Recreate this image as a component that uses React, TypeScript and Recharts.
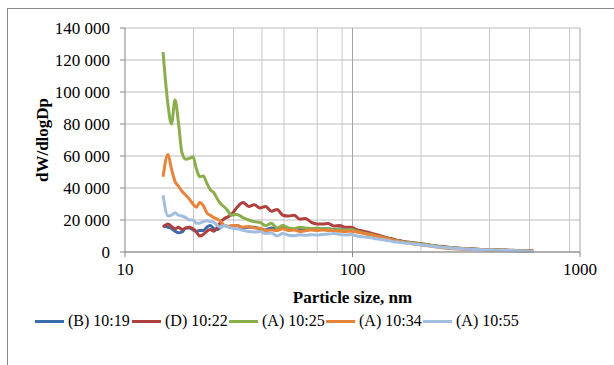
import { LineChart, Line, XAxis, YAxis, CartesianGrid, Legend, Label } from 'recharts';

// particle diameter, nm
const sizes = [
  14.7, 15.45, 16.0, 16.6, 17.2, 17.8, 18.5, 19.2, 19.9, 20.6, 21.3, 22.1, 22.9, 23.7, 24.6, 25.5, 26.4, 27.4, 28.4, 29.4,
  31.1, 33.0, 35.0, 37.0, 39.2, 41.5, 44.0, 46.6, 49.4, 52.3, 55.4, 58.7, 62.2, 65.9, 69.8, 73.9, 78.3, 82.9, 87.8, 93.0, 98.5,
  104.4, 110.6, 117.2, 124.1, 131.5, 139.3, 147.5, 156.3, 165.5, 175.4, 185.8, 196.8, 208.4, 220.8, 233.9, 247.8, 262.5,
  278.0, 294.5, 311.9, 330.4, 350.0, 370.8, 392.8, 416.1, 440.7, 466.9, 494.6, 523.9, 555.0, 587.9, 622.8,
];

const b1019 = [
  16500, 15500, 14800, 13000, 12000, 12500, 15000, 15000, 13800, 13000, 13500, 13500, 15500, 16500, 14500, 14000, 15500, 16500, 16000, 15500,
  16500, 15000, 15500, 15500, 14500, 13800, 15000, 14500, 14800, 14500, 14000, 14000, 13500, 14500, 14000, 14500, 14500, 14000, 14500, 13500, 13800,
  13200, 12300, 11500, 10700, 9800, 9000, 8000, 7200, 6500, 6000, 5500, 5000, 4500, 4000, 3500, 3100, 2800, 2500, 2200, 2000,
  1800, 1600, 1500, 1400, 1300, 1200, 1100, 1000, 900, 800, 600, 500,
];

const d1022 = [
  15500, 17500, 16000, 14500, 15500, 14000, 15000, 15500, 14500, 12500, 10000, 11000, 13000, 14000, 13000, 15500, 19000, 21000, 22000, 23500,
  28000, 31000, 28500, 29500, 27500, 28500, 25500, 26500, 23000, 22500, 23000, 20500, 21000, 18500, 17500, 17500, 17800, 16200, 16500, 15500, 15500,
  14000, 13200, 12300, 11300, 10300, 9300, 8400, 7400, 6800, 6200, 5800, 5300, 4800, 4300, 3800, 3400, 3000, 2700, 2400, 2200,
  2000, 1800, 1600, 1500, 1400, 1300, 1200, 1100, 1000, 900, 800, 700,
];

const a1025 = [
  125000, 92000, 80000, 95000, 80000, 62000, 58000, 58500, 59500, 52000, 47000, 47500, 43000, 39000, 37000, 33000, 30000, 28000, 25500, 23000,
  23500, 21500, 20000, 19000, 18500, 16500, 18000, 15000, 16500, 15000, 14500, 15500, 15000, 14500, 15000, 14300, 14500, 13800, 14200, 13500, 14000,
  13000, 12000, 11300, 10500, 9700, 8800, 7900, 7000, 6400, 6000, 5600, 5200, 4700, 4200, 3600, 3200, 2900, 2600, 2300, 2100,
  1900, 1750, 1600, 1450, 1350, 1250, 1100, 1000, 900, 800, 600, 400,
];

const a1034 = [
  47000, 61000, 52000, 44000, 41000, 38000, 35500, 33000, 30000, 28000, 31000, 29000, 24500, 23000, 21500, 20500, 19000, 16500, 16000, 16500,
  16500, 15500, 16000, 15000, 14800, 13500, 13800, 13500, 14500, 13500, 13800, 12800, 13300, 13800, 13500, 13800, 13500, 13300, 13000, 12800, 13000,
  12500, 11800, 11000, 10300, 9400, 8600, 7700, 6800, 6200, 5600, 5000, 4600, 4100, 3600, 3100, 2700, 2300, 2000, 1800, 1700,
  1600, 1500, 1400, 1300, 1200, 1100, 1000, 900, 800, 700, 600, 500,
];

const a1055 = [
  35500, 22500, 23000, 24500, 23000, 22500, 21500, 20000, 20000, 18000, 18000, 19000, 19500, 19000, 18500, 16500, 15500, 16500, 15500, 15000,
  14500, 13500, 12800, 12500, 12800, 11500, 11800, 10000, 11500, 10500, 10200, 10800, 10500, 10800, 10600, 11000, 11200, 11500, 11000, 10600, 11000,
  10000, 9500, 9200, 8500, 8000, 7400, 6800, 6200, 5800, 5400, 5000, 4700, 4200, 3800, 3300, 3000, 2600, 2300, 2100, 1900,
  1700, 1500, 1400, 1300, 1200, 1100, 1000, 900, 800, 600, 500, 300,
];

const seriesNames = ['(B) 10:19', '(D) 10:22', '(A) 10:25', '(A) 10:34', '(A) 10:55'];
const seriesColors = ['#3A6BAA', '#B0403D', '#8BAD4B', '#E8843A', '#A3BDE0'];

const xTicks = [10, 100, 1000];
const xMinorGrid = [20, 30, 40, 50, 60, 70, 80, 90, 200, 300, 400, 500, 600, 700, 800, 900];
const xMajorGrid = [100, 1000];
const yTicks = [0, 20000, 40000, 60000, 80000, 100000, 120000, 140000];

const data = sizes.map((size, i) => ({
  size,
  s0: b1019[i],
  s1: d1022[i],
  s2: a1025[i],
  s3: a1034[i],
  s4: a1055[i],
}));

const FONT = "'Liberation Serif', 'Times New Roman', serif";

function formatThousands(v: number) {
  return String(v).replace(/\B(?=(\d{3})+(?!\d))/g, ' ');
}

// legend drawn in series order (recharts may reorder its payload)
function renderLegend() {
  return (
    <div style={{ display: 'flex', paddingLeft: 35, fontFamily: FONT, fontSize: 16, color: '#000' }}>
      {seriesNames.map((name, i) => (
        <div key={name} style={{ width: 97, display: 'flex', alignItems: 'center', whiteSpace: 'nowrap' }}>
          <span style={{ display: 'inline-block', width: 29, height: 3, background: seriesColors[i] }} />
          <span style={{ marginLeft: 4 }}>{name}</span>
        </div>
      ))}
    </div>
  );
}

function renderYTitle(props: any) {
  const vb = props.viewBox || { y: 28, height: 224 };
  const cy = vb.y + vb.height / 2;
  return (
    <text
      x={42}
      y={cy}
      transform={`rotate(-90, 42, ${cy})`}
      textAnchor="middle"
      dominantBaseline="central"
      fontFamily={FONT}
      fontSize={17}
      fontWeight="bold"
      fill="#000"
    >
      dW/dlogDp
    </text>
  );
}

function renderXTitle(props: any) {
  const vb = props.viewBox || { x: 125, width: 455 };
  const cx = vb.x + vb.width / 2;
  return (
    <text
      x={cx}
      y={297}
      textAnchor="middle"
      dominantBaseline="central"
      fontFamily={FONT}
      fontSize={17}
      fontWeight="bold"
      fill="#000"
    >
      Particle size, nm
    </text>
  );
}

export default function App() {
  return (
    <div style={{ position: 'absolute', left: 0, top: 0, width: 614, height: 365, overflow: 'hidden', background: '#fff' }}>
      <div
        style={{
          position: 'absolute',
          left: 7,
          top: 8,
          width: 700,
          height: 400,
          borderTop: '1px solid #8a8a8a',
          borderLeft: '1px solid #8a8a8a',
        }}
      />
      <LineChart
        width={614}
        height={365}
        data={data}
        margin={{ top: 28, right: 34, bottom: 73, left: 0 }}
        style={{ position: 'absolute', left: 0, top: 0 }}
      >
        <CartesianGrid horizontal={false} verticalValues={xMinorGrid} stroke="#c8c8c8" strokeWidth={1} />
        <CartesianGrid vertical={false} horizontalValues={yTicks} stroke="#bcbcbc" strokeWidth={1} />
        <CartesianGrid horizontal={false} verticalValues={xMajorGrid} stroke="#a6a6a6" strokeWidth={1} />
        <XAxis
          dataKey="size"
          type="number"
          scale="log"
          domain={[10, 1000]}
          ticks={xTicks}
          allowDataOverflow
          height={40}
          tickSize={5}
          tickMargin={6}
          stroke="#868686"
          tick={{ fontSize: 17, fontFamily: FONT, fill: '#000' }}
        >
          <Label content={renderXTitle} />
        </XAxis>
        <YAxis
          type="number"
          domain={[0, 140000]}
          ticks={yTicks}
          width={125}
          tickSize={5}
          tickMargin={10}
          stroke="#868686"
          tickFormatter={formatThousands}
          tick={{ fontSize: 17, fontFamily: FONT, fill: '#000' }}
        >
          <Label content={renderYTitle} />
        </YAxis>
        <Legend
          layout="horizontal"
          verticalAlign="middle"
          align="center"
          wrapperStyle={{ top: 312, left: 0, width: 614, height: 22 }}
          content={renderLegend}
        />
        {seriesNames.map((name, i) => (
          <Line
            key={name}
            type="monotone"
            dataKey={`s${i}`}
            name={name}
            stroke={seriesColors[i]}
            strokeWidth={3}
            dot={false}
            activeDot={false}
            isAnimationActive={false}
          />
        ))}
      </LineChart>
    </div>
  );
}
